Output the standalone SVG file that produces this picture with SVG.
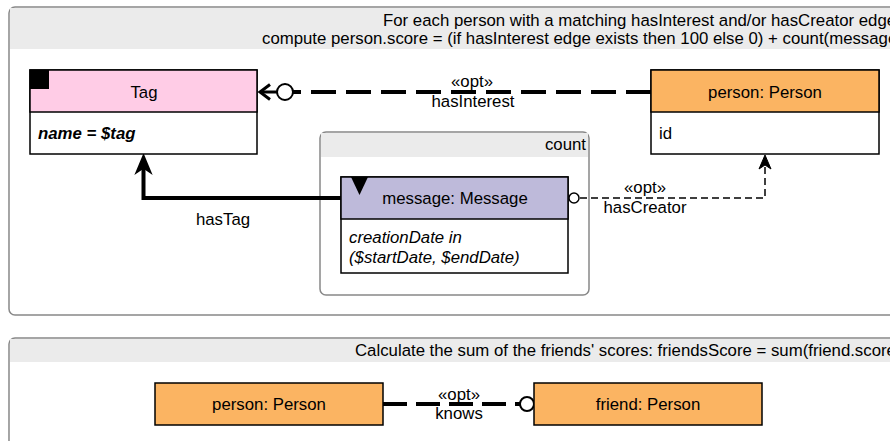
<svg xmlns="http://www.w3.org/2000/svg" width="890" height="441" viewBox="0 0 890 441">
<style>
text{font-family:"Liberation Sans",Arial,sans-serif;font-size:16.8px;fill:#000}
.panel{fill:#fff;stroke:#888;stroke-width:1.5}
.hdr{fill:#ebebeb}
.node{stroke:#000;stroke-width:1.5}
.c{text-anchor:middle}
.thick{stroke:#000;stroke-width:4;fill:none}
.thin{stroke:#000;stroke-width:1.5;fill:none}
</style>
<rect width="890" height="441" fill="#fff"/>
<g id="panel1">
<rect class="panel" x="9" y="7" width="900" height="308" rx="6"/>
<rect class="hdr" x="10" y="8" width="898" height="41"/>
<text x="383" y="26">For each person with a matching hasInterest and/or hasCreator edge</text>
<text x="262" y="44">compute person.score = (if hasInterest edge exists then 100 else 0) + count(message</text>
</g>
<g id="count">
<rect class="panel" x="320" y="132" width="269" height="163" rx="6"/>
<rect class="hdr" x="321" y="133" width="267" height="24"/>
<text x="586" y="150" text-anchor="end">count</text>
</g>
<g id="panel2">
<rect class="panel" x="9" y="338" width="900" height="120" rx="6"/>
<rect class="hdr" x="10" y="339" width="898" height="23"/>
<text x="355" y="356">Calculate the sum of the friends' scores: friendsScore = sum(friend.score</text>
</g>
<g id="connectors">
<line class="thick" x1="651" y1="92" x2="293" y2="92" stroke-dasharray="25 10"/>
<line x1="260" y1="92" x2="277" y2="92" stroke="#000" stroke-width="3"/>
<circle cx="285" cy="92" r="8" fill="#fff" stroke="#000" stroke-width="2"/>
<path d="M270,84.5 L260,92 L270,99.5" fill="none" stroke="#000" stroke-width="3"/>
<text x="472" y="87" class="c">«opt»</text>
<text x="473" y="107" class="c">hasInterest</text>
<path class="thick" d="M341,198 H143.5 V165"/>
<path d="M143.5,155 L136,173 L143.5,168 L151,173 Z" fill="#000" stroke="#000" stroke-width="1.5"/>
<text x="223" y="225" class="c">hasTag</text>
<path class="thin" d="M580,198 H765 V162" stroke-dasharray="7 4"/>
<circle cx="574" cy="198" r="5" fill="#fff" stroke="#000" stroke-width="1.5"/>
<path d="M765,155 L759,169 L765,165 L771,169 Z" fill="#000" stroke="#000" stroke-width="1"/>
<text x="645" y="193" class="c">«opt»</text>
<text x="645" y="213" class="c">hasCreator</text>
<line class="thick" x1="383" y1="404" x2="520" y2="404" stroke-dasharray="24 9"/>
<circle cx="527" cy="404" r="7" fill="#fff" stroke="#000" stroke-width="2"/>
<text x="459" y="400" class="c">«opt»</text>
<text x="459" y="419" class="c">knows</text>
</g>
<g id="tag">
<rect class="node" x="30" y="70" width="227" height="84" fill="#fff"/>
<rect class="node" x="30" y="70" width="227" height="42" fill="#ffcce6"/>
<rect x="30" y="70" width="19" height="19" fill="#000"/>
<text x="144" y="98" class="c">Tag</text>
<text x="38" y="139" font-weight="bold" font-style="italic">name = $tag</text>
</g>
<g id="person">
<rect class="node" x="651" y="70" width="228" height="84" fill="#fff"/>
<rect class="node" x="651" y="70" width="228" height="42" fill="#fbb462"/>
<text x="765" y="98" class="c">person: Person</text>
<text x="659" y="139">id</text>
</g>
<g id="message">
<rect class="node" x="341" y="177" width="227" height="96" fill="#fff"/>
<rect class="node" x="341" y="177" width="227" height="42" fill="#bebada"/>
<path d="M351,177 L368,177 L359.5,195 Z" fill="#000"/>
<text x="455" y="204" class="c">message: Message</text>
<text x="349" y="243" font-style="italic">creationDate in</text>
<text x="349" y="263" font-style="italic">($startDate, $endDate)</text>
</g>
<g id="person2">
<rect class="node" x="155" y="383" width="228" height="42" fill="#fbb462"/>
<text x="269" y="410" class="c">person: Person</text>
</g>
<g id="friend">
<rect class="node" x="534" y="383" width="228" height="42" fill="#fbb462"/>
<text x="648" y="410" class="c">friend: Person</text>
</g>
</svg>
